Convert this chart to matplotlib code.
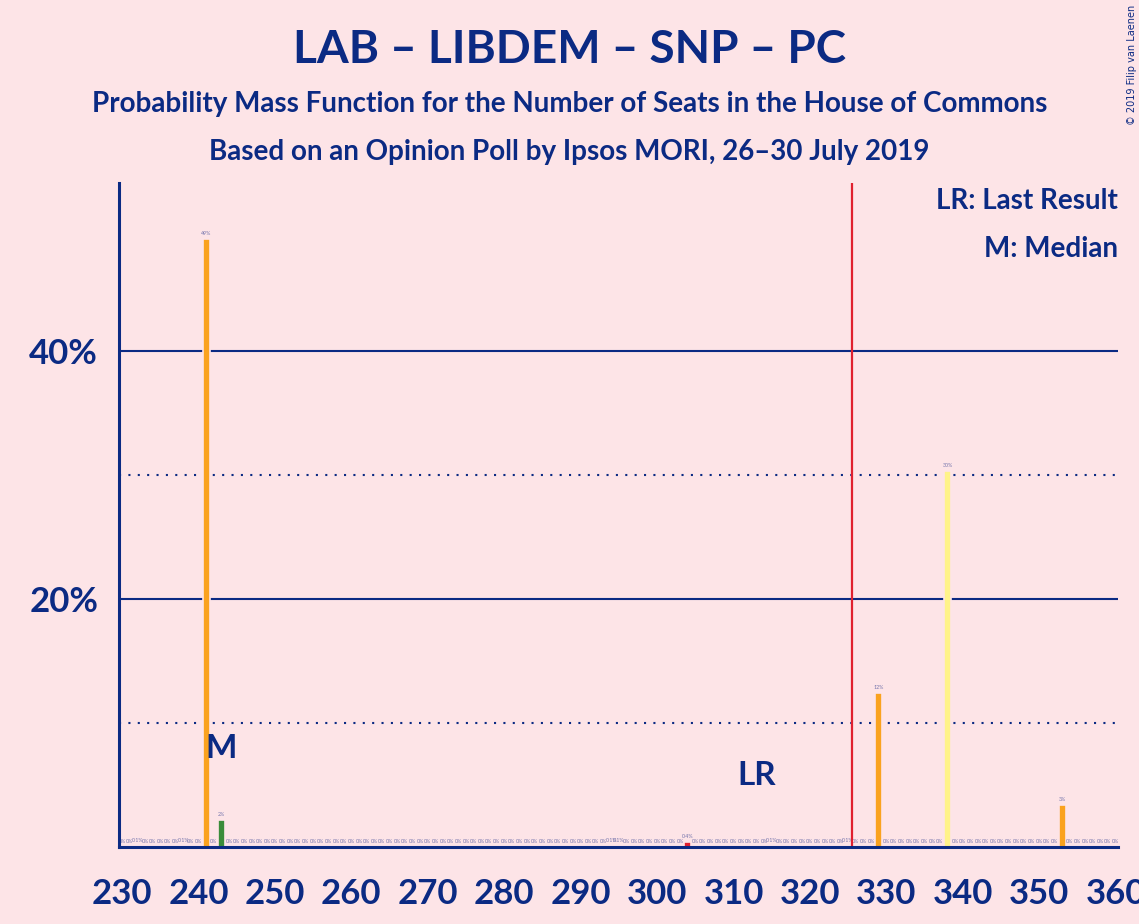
import matplotlib
matplotlib.use("Agg")
import matplotlib.pyplot as plt

# =========================================================
# DATA
# =========================================================

seats = list(range(230, 361))

# probability (%) per seat, only non-zero entries listed
nonzero_seats = [232, 238, 241, 243, 294, 295, 304, 315, 325, 329, 338, 353]
nonzero_probs = [0.1, 0.1, 49.0, 2.2, 0.1, 0.1, 0.4, 0.1, 0.1, 12.4, 30.3, 3.4]
nonzero_colors = ["#FAA21E", "#FFF389", "#FAA21E", "#3A8C3A", "#FAA21E", "#FAA21E",
                  "#E0202F", "#FAA21E", "#FAA21E", "#FAA21E", "#FFF389", "#FAA21E"]

prob_lookup = dict(zip(nonzero_seats, nonzero_probs))
color_lookup = dict(zip(nonzero_seats, nonzero_colors))
probs = [prob_lookup.get(s, 0.0) for s in seats]

last_result = 313
median = 243
majority = 326

x_ticks = list(range(230, 361, 10))
y_ticks = [20, 40]
y_tick_labels = ["20%", "40%"]

title = "LAB – LIBDEM – SNP – PC"
subtitle1 = "Probability Mass Function for the Number of Seats in the House of Commons"
subtitle2 = "Based on an Opinion Poll by Ipsos MORI, 26–30 July 2019"

# =========================================================
# STYLE
# =========================================================

BG = "#FDE4E7"
NAVY = "#0B2A83"
LABEL_GREY = "#7474AC"
RED = "#E0202F"

plt.rcParams["font.family"] = ["Lato", "DejaVu Sans"]

fig = plt.figure(figsize=(11.39, 9.24), dpi=100, facecolor=BG)
ax = fig.add_axes([0.1045, 0.0833, 0.877, 0.7187], facecolor=BG)

# =========================================================
# GRID LINES
# =========================================================

for y in [20, 40]:
    ax.axhline(y, color=NAVY, linewidth=1.5, zorder=1)
for y in [10, 30]:
    ax.axhline(y, color=NAVY, linewidth=1.5, linestyle=(0, (1, 3.5)), zorder=1)

# =========================================================
# BARS
# =========================================================

for s, p in zip(seats, probs):
    if p > 0:
        ax.bar(s, p, width=0.9, color=color_lookup[s],
               edgecolor=BG, linewidth=1.2, zorder=2)
    if p == 0:
        lbl = "0%"
    elif p < 1:
        lbl = f"{p:.1f}%"
    else:
        lbl = f"{round(p)}%"
    ax.text(s, p + 0.25, lbl, ha="center", va="bottom",
            fontsize=3.8, color=LABEL_GREY, zorder=3)

# majority line
ax.axvline(majority - 0.5, color=RED, linewidth=1.6, zorder=3)

# median / last result markers
ax.text(median, 6.8, "M", ha="center", va="bottom", fontsize=24,
        fontweight="bold", color=NAVY, zorder=4)
ax.text(last_result, 4.6, "LR", ha="center", va="bottom", fontsize=24,
        fontweight="bold", color=NAVY, zorder=4)

# =========================================================
# AXES
# =========================================================

ax.set_xlim(229.6, 360.3)
ax.set_ylim(0, 53.5)

ax.set_xticks(x_ticks)
ax.set_xticklabels([str(t) for t in x_ticks], fontsize=25,
                   fontweight="bold", color=NAVY)
ax.set_yticks(y_ticks)
ax.set_yticklabels(y_tick_labels, fontsize=25, fontweight="bold", color=NAVY)
ax.tick_params(axis="x", length=0, pad=22)
ax.tick_params(axis="y", length=0, pad=15)

for side in ["top", "right"]:
    ax.spines[side].set_visible(False)
for side in ["left", "bottom"]:
    ax.spines[side].set_color(NAVY)
    ax.spines[side].set_linewidth(2.2)
    ax.spines[side].set_zorder(5)

# =========================================================
# TITLES / LEGEND TEXT
# =========================================================

fig.text(0.5, 0.946, title, ha="center", va="center", fontsize=33,
         fontweight="bold", color=NAVY)
fig.text(0.5, 0.887, subtitle1, ha="center", va="center", fontsize=20,
         fontweight="bold", color=NAVY)
fig.text(0.5, 0.835, subtitle2, ha="center", va="center", fontsize=20,
         fontweight="bold", color=NAVY)

fig.text(0.9816, 0.783, "LR: Last Result", ha="right", va="center",
         fontsize=20, fontweight="bold", color=NAVY)
fig.text(0.9816, 0.731, "M: Median", ha="right", va="center",
         fontsize=20, fontweight="bold", color=NAVY)

fig.text(0.9935, 0.995, "© 2019 Filip van Laenen", ha="center", va="top",
         rotation=90, fontsize=7, color=NAVY, family=["DejaVu Sans"])

fig.savefig("out.png", dpi=100, facecolor=BG)
